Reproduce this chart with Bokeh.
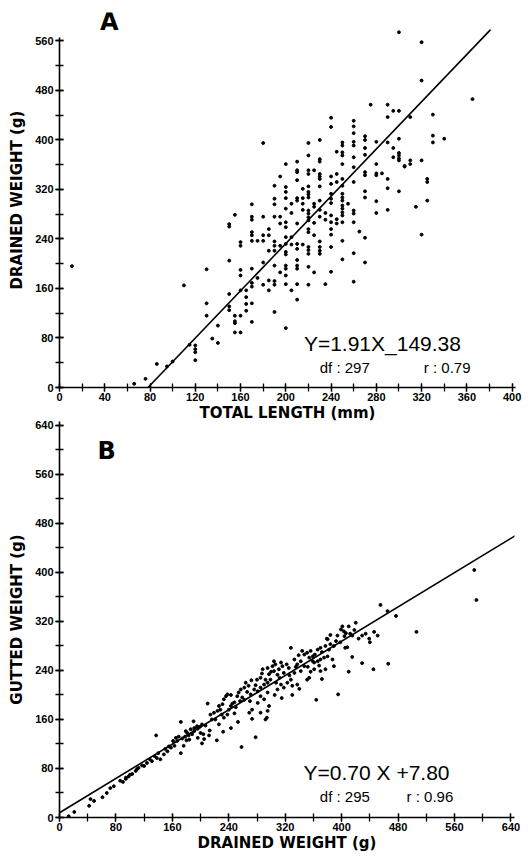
from bokeh.plotting import figure
from bokeh.layouts import column
from bokeh.models import SingleIntervalTicker, Label, Range1d
from bokeh.embed import file_html
from bokeh.resources import INLINE

# ---------------- Panel A: total length (mm) vs drained weight (g) ----------------
a_length_cols = [11, 66, 76, 86, 95, 100, 110, 115, 120, 130, 135, 140, 150, 155, 160, 165,
                 170, 175, 180, 185, 190, 195, 200, 205, 210, 215, 220, 225, 230, 235, 240,
                 245, 250, 255, 260, 265, 270, 275, 280, 285, 290, 295, 300, 305, 310, 315,
                 320, 325, 330, 340, 365]
a_drained_cols = [
    [196], [6], [14], [38], [34], [42], [165], [69], [68, 62, 57, 44], [191, 136, 116], [79], [100, 72],
    [264, 260, 205, 151, 131, 125], [279, 116, 107, 104, 89], [235, 229, 190, 181, 157, 116, 89],
    [157, 146, 135, 124],
    [296, 276, 271, 251, 246, 237, 192, 169, 163, 136, 106], [237, 177], [395, 276, 246, 237, 202, 166],
    [256, 246, 221, 173, 157],
    [326, 305, 296, 276, 236, 229, 221, 197, 172, 166, 122], [341, 276, 265, 229, 186],
    [361, 324, 316, 306, 289, 267, 259, 243, 232, 219, 215, 197, 192, 181, 167, 96],
    [297, 282, 243, 231, 157],
    [365, 351, 348, 335, 306, 302, 265, 232, 224, 206, 197, 192, 167, 142], [321, 306, 297, 287, 231],
    [395, 375, 351, 345, 325, 316, 312, 307, 286, 281, 275, 270, 256, 251, 227, 222, 216, 195, 166],
    [351, 297, 292, 266, 246, 186],
    [400, 369, 365, 345, 341, 337, 325, 302, 287, 276, 236, 227, 221, 216], [282, 271, 167],
    [436, 421, 341, 329, 313, 305, 298, 278, 267, 256, 247, 227, 187], [381, 345, 332, 272, 265],
    [396, 391, 380, 375, 361, 337, 326, 313, 307, 302, 294, 289, 283, 278, 267, 237, 207], [297],
    [431, 422, 411, 397, 391, 372, 356, 332, 286, 281, 267, 217, 171], [252],
    [406, 400, 387, 376, 348, 343, 317, 307, 242, 202], [457], [397, 361, 346, 343, 301, 282], [346],
    [457, 437, 396, 337, 322, 287], [447, 387, 372], [574, 447, 402, 379, 375, 370, 367, 317], [358, 357],
    [437, 367, 361], [292], [558, 496, 367, 247], [337, 332, 302], [441, 407, 396], [402], [466],
]
a_slope, a_intercept = 1.91, -149.38
a_fit_x = [78.2, 381.0]
a_x_ticks_interval, a_y_ticks_interval = 40, 80

# ---------------- Panel B: drained weight (g) vs gutted weight (g) ----------------
b_drained = [13, 21, 42, 44, 49, 61, 67, 72, 77, 86,
             90, 94, 94, 98, 100, 103, 108, 110, 112, 117,
             120, 124, 128, 131, 135, 137, 138, 140, 143, 148,
             153, 158, 161, 165, 169, 174, 163, 172, 176, 167,
             172, 181, 186, 191, 195, 199, 202, 191, 200, 204,
             212, 213, 188, 202, 184, 179, 190, 214, 219, 224,
             226, 228, 231, 233, 236, 238, 221, 226, 233, 238,
             240, 243, 245, 243, 253, 223, 243, 210, 252, 257,
             262, 266, 259, 254, 271, 276, 278, 281, 285, 290,
             295, 285, 290, 295, 281, 273, 269, 285, 294, 273,
             258, 278, 288, 295, 302, 304, 309, 311, 316, 299,
             307, 314, 318, 323, 328, 330, 333, 325, 314, 304,
             297, 292, 285, 309, 328, 333, 337, 342, 347, 351,
             354, 359, 361, 366, 370, 375, 380, 347, 351, 340,
             337, 342, 361, 370, 377, 364, 379, 382, 366, 359,
             356, 370, 377, 389, 405, 408, 415, 429, 445, 466,
             410, 395, 389, 387, 354, 295, 292, 297,
             588, 591, 506, 455, 465, 477, 420, 410, 401, 399,
             403, 406, 394, 384, 380, 429, 439, 446, 451, 415,
             150, 155, 178, 183, 196, 207, 216, 230, 248, 250,
             256, 262, 264, 268, 272, 280, 287, 300, 306, 312,
             318, 322, 326, 335, 339, 344, 352, 356, 362, 368,
             372, 384, 392, 398, 404, 412, 418, 424, 434, 440,
             372, 330, 315, 305, 270, 248, 232, 205, 196, 180]
b_gutted = [2, 9, 19, 30, 27, 33, 40, 48, 51, 60,
            58, 63, 65, 67, 70, 71, 76, 79, 81, 85,
            84, 89, 95, 92, 100, 134, 97, 105, 95, 103,
            108, 114, 125, 130, 132, 129, 117, 105, 117, 125,
            156, 138, 144, 146, 149, 148, 152, 141, 138, 136,
            134, 142, 136, 121, 127, 141, 157, 168, 171, 174,
            182, 176, 185, 193, 198, 201, 160, 152, 163, 168,
            176, 182, 186, 146, 156, 126, 200, 186, 198, 209,
            212, 205, 196, 204, 201, 209, 216, 206, 212, 217,
            220, 198, 193, 204, 187, 176, 171, 171, 163, 161,
            115, 131, 242, 244, 247, 239, 233, 242, 247, 225,
            220, 217, 212, 220, 225, 215, 236, 244, 253, 255,
            234, 225, 228, 209, 277, 258, 250, 255, 266, 269,
            261, 263, 253, 255, 258, 261, 263, 247, 225, 210,
            217, 239, 242, 239, 242, 192, 292, 274, 274, 255,
            272, 277, 280, 280, 277, 278, 262, 252, 242, 251,
            238, 201, 247, 258, 228, 174, 160, 182,
            404, 355, 303, 347, 337, 329, 318, 312, 312, 307,
            304, 301, 297, 298, 291, 297, 292, 303, 297, 297,
            112, 116, 132, 134, 145, 150, 160, 168, 188, 180,
            190, 192, 220, 215, 224, 225, 235, 238, 250, 228,
            236, 250, 232, 246, 265, 272, 246, 238, 266, 248,
            270, 283, 288, 286, 296, 300, 306, 292, 300, 286,
            226, 200, 195, 200, 190, 170, 140, 128, 130, 126]
b_slope, b_intercept = 0.70, 7.80
b_fit_x = [0.0, 650.0]
b_x_ticks_interval, b_y_ticks_interval = 80, 80

# expand panel A columns into point lists
a_length, a_drained = [], []
for xv, ys in zip(a_length_cols, a_drained_cols):
    for yv in ys:
        a_length.append(xv)
        a_drained.append(yv)

a_fit_y = [a_slope * v + a_intercept for v in a_fit_x]
b_fit_y = [b_slope * v + b_intercept for v in b_fit_x]


def style(p, xint, yint, xlab, ylab):
    p.xaxis.ticker = SingleIntervalTicker(interval=xint, num_minor_ticks=2)
    p.yaxis.ticker = SingleIntervalTicker(interval=yint, num_minor_ticks=2)
    p.xaxis.axis_label = xlab
    p.yaxis.axis_label = ylab
    for ax in (p.xaxis[0], p.yaxis[0]):
        ax.axis_line_color = "black"
        ax.axis_line_width = 1.6
        ax.major_tick_line_color = "black"
        ax.major_tick_line_width = 1.3
        ax.minor_tick_line_color = "black"
        ax.minor_tick_line_width = 1.3
        ax.major_tick_in = 4
        ax.major_tick_out = 4
        ax.minor_tick_in = 4
        ax.minor_tick_out = 4
        ax.major_label_text_font = "Liberation Sans"
        ax.major_label_text_font_style = "bold"
        ax.major_label_text_font_size = "11px"
        ax.major_label_text_color = "black"
        ax.axis_label_text_font = "DejaVu Sans"
        ax.axis_label_text_font_style = "bold"
        ax.axis_label_text_font_size = "15px"
        ax.axis_label_text_color = "black"
    p.xaxis.major_label_standoff = 1
    p.yaxis.major_label_standoff = 2
    p.xaxis.axis_label_standoff = 0
    p.yaxis.axis_label_standoff = 6
    p.grid.visible = False
    p.outline_line_color = None
    p.background_fill_color = "white"
    p.border_fill_color = "white"


def txt(x, y, s, size, bold=False, font="Liberation Sans", align="left"):
    return Label(x=x, y=y, text=s, text_font=font, text_font_style="bold" if bold else "normal",
                 text_font_size=size, text_color="black", text_align=align, text_baseline="middle")


# ---------------- figure A ----------------
pa = figure(frame_width=456, frame_height=375, output_backend="svg", toolbar_location=None,
            x_range=Range1d(0, 403), y_range=Range1d(0, 606),
            min_border_left=58, min_border_right=8, min_border_top=12, min_border_bottom=33)
style(pa, a_x_ticks_interval, a_y_ticks_interval, "TOTAL LENGTH (mm)", "DRAINED WEIGHT (g)")
pa.yaxis.bounds = (0, 565)
pa.line(a_fit_x, a_fit_y, line_color="black", line_width=1.6)
pa.scatter(a_length, a_drained, size=2.9, marker="circle", fill_color="black", line_color="black")
pa.add_layout(txt(44, 590, "A", "24px", bold=True, font="DejaVu Sans", align="center"))
pa.add_layout(txt(216, 71, "Y=1.91X_149.38", "21px"))
pa.add_layout(txt(230, 32, "df : 297", "15px"))
pa.add_layout(txt(322, 32, "r : 0.79", "15px"))

# ---------------- figure B ----------------
pb = figure(frame_width=455, frame_height=396, output_backend="svg", toolbar_location=None,
            x_range=Range1d(0, 645), y_range=Range1d(0, 646.5),
            min_border_left=59, min_border_right=8, min_border_top=2, min_border_bottom=33)
style(pb, b_x_ticks_interval, b_y_ticks_interval, "DRAINED WEIGHT (g)", "GUTTED WEIGHT (g)")
pb.border_fill_color = None
pb.margin = (-5, 0, 0, 0)
pb.line(b_fit_x, b_fit_y, line_color="black", line_width=1.6)
pb.scatter(b_drained, b_gutted, size=2.9, marker="circle", fill_color="black", line_color="black")
pb.add_layout(txt(67, 598, "B", "24px", bold=True, font="DejaVu Sans", align="center"))
pb.add_layout(txt(346, 73, "Y=0.70 X +7.80", "21px"))
pb.add_layout(txt(369, 34, "df : 295", "15px"))
pb.add_layout(txt(492, 34, "r : 0.96", "15px"))

layout = column(pa, pb, spacing=0)
open("out.html", "w").write(file_html(layout, INLINE))
